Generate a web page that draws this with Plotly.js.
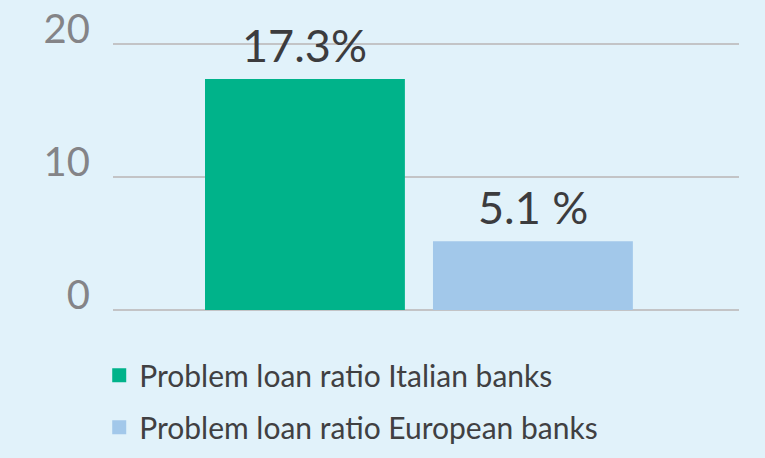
<!DOCTYPE html>
<html><head><meta charset="utf-8">
<script src="https://cdn.plot.ly/plotly-3.0.1.min.js"></script>
<style>html,body{margin:0;padding:0;background:#E1F2FA}</style>
</head><body>
<div id="chart" style="width:765px;height:458px"></div>
<script>
const categories = ["Italian banks", "European banks"];
const seriesNames = ["Problem loan ratio Italian banks", "Problem loan ratio European banks"];
const values = [17.3, 5.1];
const valueLabels = ["17.3%", "5.1 %"];
const colors = ["#00B38A", "#A2C8EA"];
const yTicks = [0, 10, 20];

const traces = categories.map((c, i) => ({
  type: "bar",
  x: [c],
  y: [values[i]],
  name: seriesNames[i],
  legendgroup: "g" + i,
  marker: {color: colors[i], line: {color: colors[i], width: 2}},
  width: 0.868,
  hoverinfo: "none"
}));

const annotations = categories.map((c, i) => ({
  x: c, y: values[i], xref: "x", yref: "y",
  text: valueLabels[i], showarrow: false,
  yanchor: "bottom", yshift: 6,
  font: {family: "Lato, 'Open Sans', sans-serif", size: 45, color: "#3C3C3E"}
}));

const layout = {
  width: 765, height: 458,
  paper_bgcolor: "#E1F2FA", plot_bgcolor: "#E1F2FA",
  margin: {l: 113, r: 26, t: 30, b: 148, autoexpand: false},
  barmode: "overlay",
  showlegend: true,
  legend: {
    x: -0.022, xanchor: "left", xref: "paper",
    y: -0.14, yanchor: "top",
    bgcolor: "rgba(0,0,0,0)",
    tracegroupgap: 10,
    font: {family: "Lato, 'Open Sans', sans-serif", size: 30, color: "#404042"}
  },
  xaxis: {
    type: "category",
    range: [-0.842, 1.904],
    showticklabels: false, showgrid: false, zeroline: false, showline: false,
    fixedrange: true
  },
  yaxis: {
    range: [0, 21.05],
    tickvals: yTicks,
    ticktext: yTicks.map(String),
    showgrid: true, gridcolor: "#C3C4C6", gridwidth: 2,
    zeroline: true, zerolinecolor: "#C3C4C6", zerolinewidth: 2,
    showline: false, ticks: "", ticklabelstandoff: 22, ticklabelshift: -15,
    tickfont: {family: "Lato, 'Open Sans', sans-serif", size: 40, color: "#848487"},
    fixedrange: true
  },
  annotations: annotations
};

Plotly.newPlot("chart", traces, layout, {displayModeBar: false, staticPlot: true});
</script>
</body></html>
